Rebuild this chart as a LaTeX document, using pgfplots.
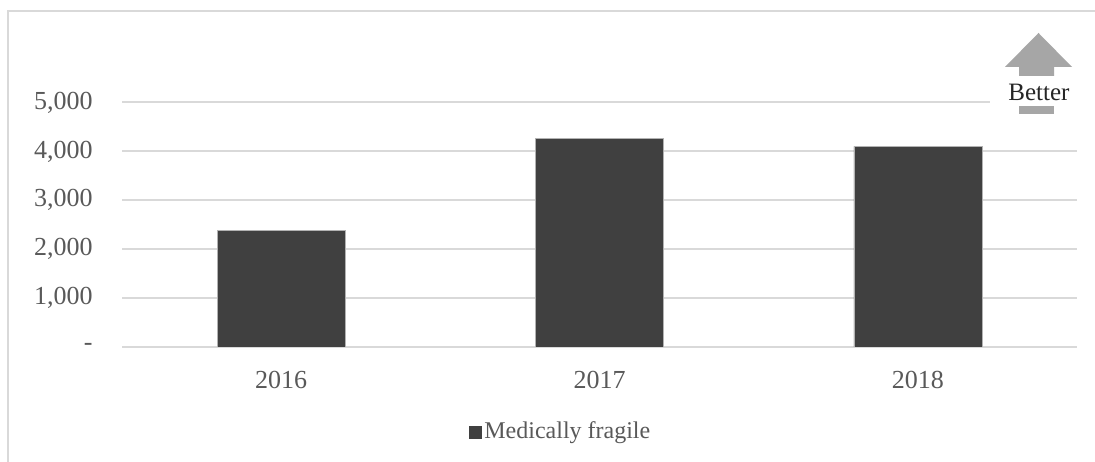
\documentclass[border=0pt]{standalone}
\usepackage{pgfplots}
\pgfplotsset{compat=1.18}
\usepackage{fontspec}
\setmainfont{Liberation Serif}

\definecolor{barfill}{HTML}{404040}
\definecolor{gridgray}{HTML}{D9D9D9}
\definecolor{framegray}{HTML}{D9D9D9}
\definecolor{tickgray}{HTML}{595959}
\definecolor{arrowgray}{HTML}{A6A6A6}

\begin{document}
\begin{tikzpicture}[x=0.5bp,y=0.5bp]
  % canvas (1 unit = one pixel of the 1095 x 462 canvas)
  \useasboundingbox (0,0) rectangle (1095,462);
  \fill[white] (0,0) rectangle (1095,462);
  \draw[framegray, line width=1bp] (8,-10) -- (8,451) -- (1110,451);

  \begin{axis}[
    at={(61bp,57.5bp)}, anchor=south west,
    scale only axis,
    width=477.5bp, height=122.25bp,
    xmin=-0.5, xmax=2.5,
    ymin=0, ymax=5000,
    ybar, bar width=64bp,
    xtick={0,1,2},
    xticklabels={2016,2017,2018},
    ytick={0,1000,2000,3000,4000,5000},
    yticklabels={{-\hspace{6.5bp}},{1,000},{2,000},{3,000},{4,000},{5,000}},
    axis line style={draw=none},
    major tick length=0pt,
    tick style={draw=none},
    ymajorgrids,
    grid style={gridgray, line width=1bp},
    yticklabel style={font=\fontsize{13bp}{15bp}\selectfont, text=tickgray,
      anchor=east, inner sep=0pt, xshift=-14.5bp},
    xticklabel style={font=\fontsize{13bp}{15bp}\selectfont, text=tickgray,
      anchor=north, inner sep=0pt, yshift=-12bp},
    legend style={at={(0.4597,-0.3476)}, anchor=center, draw=none,
      font=\fontsize{12bp}{14bp}\selectfont, text=tickgray,
      inner sep=0pt, nodes={inner sep=1.5bp}},
    legend image code/.code={\fill[barfill] (0bp,-3bp) rectangle (6bp,3bp);},
  ]
    \addplot[fill=barfill, draw=gray!60, line width=0.3bp] coordinates {(0,2390) (1,4270) (2,4100)};
    \addlegendentry{Medically fragile}
  \end{axis}

  % "Better" direction marker
  \fill[white] (990,462-84) rectangle (1085,462-104);
  \fill[arrowgray] (1038.5,462-33) -- (1072,462-67) -- (1054,462-67)
    -- (1054,462-76) -- (1019,462-76) -- (1019,462-67) -- (1005,462-67) -- cycle;
  \node[inner sep=0pt, text=black!85, font=\fontsize{12.5bp}{15bp}\selectfont]
    at (1039,462-92) {Better};
  \fill[arrowgray] (1019,462-106) rectangle (1054,462-114);
\end{tikzpicture}
\end{document}
